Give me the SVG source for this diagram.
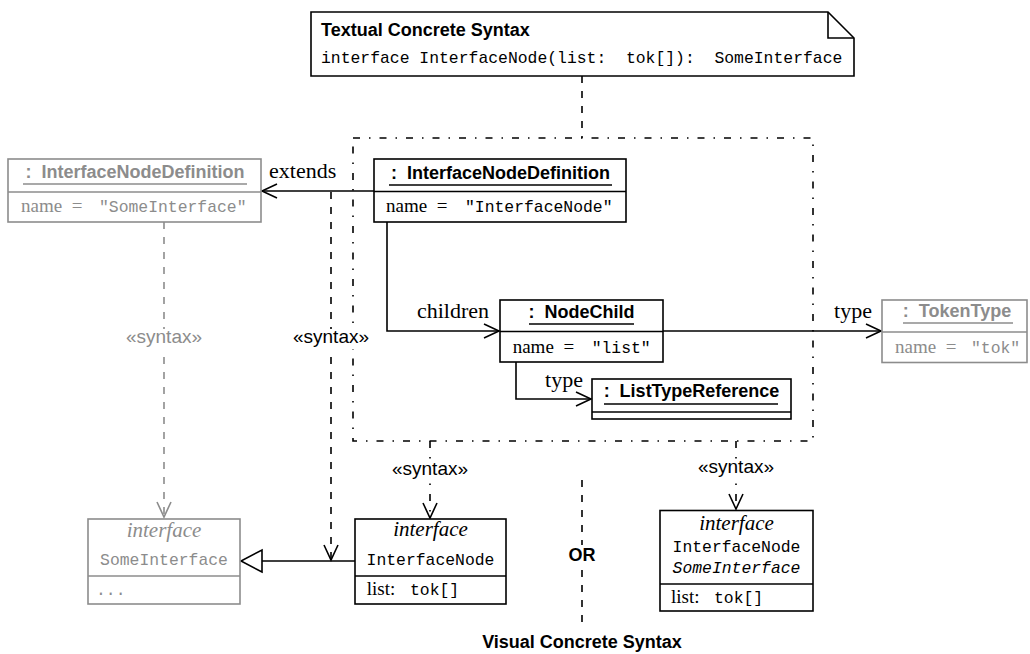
<svg xmlns="http://www.w3.org/2000/svg" width="1030" height="654" viewBox="0 0 1030 654">
  <style>
    .box { fill: #fff; stroke: #000; stroke-width: 1.6; }
    .gbox { fill: #fff; stroke: #8c8c8c; stroke-width: 1.6; }
    .ln { fill: none; stroke: #000; stroke-width: 1.6; }
    .gln { fill: none; stroke: #8c8c8c; stroke-width: 1.6; }
    .dash { stroke-dasharray: 7 8; }
    .dashdot { stroke-dasharray: 7 9 1.5 9; }
    .title { font-family: "Liberation Sans", Arial, sans-serif; font-weight: bold; font-size: 18px; text-anchor: middle; }
    .head { font-family: "Liberation Sans", Arial, sans-serif; font-weight: bold; font-size: 18px; }
    .serif { font-family: "Liberation Serif", "Times New Roman", serif; font-size: 19px; }
    .lbl { font-family: "Liberation Serif", "Times New Roman", serif; font-size: 22px; }
    .ital { font-family: "Liberation Serif", "Times New Roman", serif; font-style: italic; font-size: 21px; text-anchor: middle; }
    .mono { font-family: "Liberation Mono", "Courier New", monospace; font-size: 16.4px; }
    .stereo { font-family: "Liberation Sans", Arial, sans-serif; font-size: 19px; text-anchor: middle; }
    .grey { fill: #8c8c8c; }
    .ul { stroke: #000; stroke-width: 1.3; }
    .gul { stroke: #8c8c8c; stroke-width: 1.3; }
    .bg { fill: #fff; }
  </style>
  <defs>
    <marker id="open" viewBox="-17 -9 19 18" refX="0" refY="0" markerWidth="19" markerHeight="18" markerUnits="userSpaceOnUse" orient="auto">
      <path d="M-15,-7 L0,0 L-15,7" fill="none" stroke="#000" stroke-width="1.6"/>
    </marker>
    <marker id="openGrey" viewBox="-17 -9 19 18" refX="0" refY="0" markerWidth="19" markerHeight="18" markerUnits="userSpaceOnUse" orient="auto">
      <path d="M-15,-7 L0,0 L-15,7" fill="none" stroke="#8c8c8c" stroke-width="1.6"/>
    </marker>
    <marker id="realize" viewBox="-23 -13 25 26" refX="0" refY="0" markerWidth="25" markerHeight="26" markerUnits="userSpaceOnUse" orient="auto">
      <path d="M-21,-11 L0,0 L-21,11 Z" fill="#fff" stroke="#000" stroke-width="1.6"/>
    </marker>
  </defs>

  <!-- package frame around the abstract syntax objects -->
  <rect id="frame" x="353" y="138" width="460" height="303" class="ln dashdot"/>

  <!-- connectors -->
  <g id="connectors">
    <path class="ln dash" d="M582,76 V138"/>
    <path class="ln" d="M374,191 H262" marker-end="url(#open)"/>
    <path class="ln dash" d="M331,192 V560" marker-end="url(#open)"/>
    <path class="ln" d="M387,222 V331 H499" marker-end="url(#open)"/>
    <path class="ln" d="M663,331 H881" marker-end="url(#open)"/>
    <path class="ln" d="M516,362 V399 H591" marker-end="url(#open)"/>
    <path class="gln dash" d="M164,222 V517" marker-end="url(#openGrey)"/>
    <path class="ln" d="M355,561 H241" marker-end="url(#realize)"/>
    <path class="ln dashdot" d="M430,441 V518" marker-end="url(#open)"/>
    <path class="ln dashdot" d="M736,441 V509" marker-end="url(#open)"/>
    <path class="ln dash" d="M582,480 V626"/>

    <text class="lbl" x="269" y="178">extends</text>
    <text class="lbl" x="489" y="318" text-anchor="end">children</text>
    <text class="lbl" x="872" y="318" text-anchor="end">type</text>
    <text class="lbl" x="583" y="387" text-anchor="end">type</text>

    <rect class="bg" x="290" y="329" width="82" height="20"/>
    <text class="stereo" x="331" y="343">«syntax»</text>
    <rect class="bg" x="123" y="329" width="82" height="20"/>
    <text class="stereo grey" x="164" y="343">«syntax»</text>
    <rect class="bg" x="389" y="461" width="82" height="20"/>
    <text class="stereo" x="430" y="475">«syntax»</text>
    <rect class="bg" x="695" y="459" width="82" height="20"/>
    <text class="stereo" x="736" y="473">«syntax»</text>
    <rect class="bg" x="568" y="545" width="28" height="20"/>
    <text class="title" x="582" y="561">OR</text>
  </g>

  <!-- textual syntax note -->
  <g id="textual-note">
    <path class="box" d="M311,12 H828 L854,38 V76 H311 Z"/>
    <path class="ln" d="M828,12 V38 H854"/>
    <text class="head" x="321" y="36">Textual Concrete Syntax</text>
    <text class="mono" x="321" y="63" xml:space="preserve">interface InterfaceNode(list:  tok[]):  SomeInterface</text>
  </g>

  <!-- parent interface definition (grey) -->
  <g id="parent-def">
    <rect class="gbox" x="8" y="159" width="253" height="63"/>
    <line class="gln" x1="8" y1="192" x2="261" y2="192"/>
    <text class="title grey" x="135" y="178">:&#160;&#160;InterfaceNodeDefinition</text>
    <line class="gul" x1="23" y1="184" x2="247" y2="184"/>
    <text class="serif grey" x="21" y="212">name</text>
    <text class="serif grey" x="71.7" y="212">=</text>
    <text class="mono grey" x="99" y="212">"SomeInterface"</text>
  </g>

  <!-- interface node definition -->
  <g id="node-def">
    <rect class="box" x="374" y="159" width="252" height="63"/>
    <line class="ln" x1="374" y1="191.5" x2="626" y2="191.5"/>
    <text class="title" x="500.5" y="179">:&#160;&#160;InterfaceNodeDefinition</text>
    <line class="ul" x1="389" y1="185" x2="612" y2="185"/>
    <text class="serif" x="386" y="212">name</text>
    <text class="serif" x="436.7" y="212">=</text>
    <text class="mono" x="465" y="212">"InterfaceNode"</text>
  </g>

  <!-- node child -->
  <g id="node-child">
    <rect class="box" x="500" y="300" width="163" height="62"/>
    <line class="ln" x1="500" y1="331.5" x2="663" y2="331.5"/>
    <text class="title" x="581.5" y="318">:&#160;&#160;NodeChild</text>
    <line class="ul" x1="529" y1="324" x2="634" y2="324"/>
    <text class="serif" x="512.7" y="352.5">name</text>
    <text class="serif" x="563.4" y="352.5">=</text>
    <text class="mono" x="591.7" y="352.5">"list"</text>
  </g>

  <!-- list type reference -->
  <g id="list-type-ref">
    <rect class="box" x="592" y="379" width="199" height="40"/>
    <line class="ln" x1="592" y1="412" x2="791" y2="412"/>
    <text class="title" x="691.5" y="397">:&#160;&#160;ListTypeReference</text>
    <line class="ul" x1="604" y1="404" x2="778" y2="404"/>
  </g>

  <!-- token type (grey) -->
  <g id="token-type">
    <rect class="gbox" x="882" y="300" width="145" height="62.5"/>
    <line class="gln" x1="882" y1="332" x2="1027" y2="332"/>
    <text class="title grey" x="957" y="317">:&#160;&#160;TokenType</text>
    <line class="gul" x1="903" y1="323" x2="1013" y2="323"/>
    <text class="serif grey" x="895" y="353">name</text>
    <text class="serif grey" x="945.7" y="353">=</text>
    <text class="mono grey" x="971" y="353">"tok"</text>
  </g>

  <!-- SomeInterface class (grey) -->
  <g id="some-interface">
    <rect class="gbox" x="88" y="519" width="152" height="85"/>
    <line class="gln" x1="88" y1="576" x2="240" y2="576"/>
    <text class="ital grey" x="164" y="537">interface</text>
    <text class="mono grey" x="164" y="565" text-anchor="middle">SomeInterface</text>
    <text class="mono grey" x="96" y="595">...</text>
  </g>

  <!-- InterfaceNode class, generalization notation -->
  <g id="interface-node-a">
    <rect class="box" x="355" y="519" width="151" height="85"/>
    <line class="ln" x1="355" y1="576" x2="506" y2="576"/>
    <text class="ital" x="430.5" y="536">interface</text>
    <text class="mono" x="430.5" y="565" text-anchor="middle">InterfaceNode</text>
    <text class="serif" x="366.7" y="595">list:</text>
    <text class="mono" x="410" y="595">tok[]</text>
  </g>

  <!-- InterfaceNode class, parent named in the header -->
  <g id="interface-node-b">
    <rect class="box" x="660" y="510.5" width="153" height="100.5"/>
    <line class="ln" x1="660" y1="584" x2="813" y2="584"/>
    <text class="ital" x="736.5" y="530">interface</text>
    <text class="mono" x="736.5" y="552" text-anchor="middle">InterfaceNode</text>
    <text class="mono" x="736.5" y="573" text-anchor="middle" font-style="italic" font-size="15px">SomeInterface</text>
    <text class="serif" x="671" y="603">list:</text>
    <text class="mono" x="714" y="603">tok[]</text>
  </g>

  <text id="visual-title" class="title" x="582" y="648">Visual Concrete Syntax</text>
</svg>
